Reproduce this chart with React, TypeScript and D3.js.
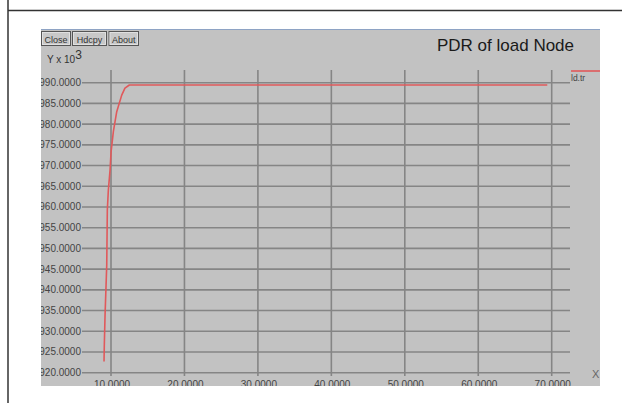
import React from "react";
import * as d3 from "d3";

// PDR trace of the load node (simulation time vs packet delivery ratio x 10^3)
const pdrTime = [9.05, 9.09, 9.19, 9.33, 9.42, 9.46, 9.5, 9.64, 9.87, 10.01, 10.32, 10.78, 11.46, 11.9, 12.5, 69.4];
const pdrValue = [922.7, 926.7, 933.9, 941.2, 946.0, 952.8, 959.3, 964.1, 968.9, 973.3, 978.2, 983.0, 987.0, 988.7, 989.45, 989.45];

const yTicks = [920, 925, 930, 935, 940, 945, 950, 955, 960, 965, 970, 975, 980, 985, 990];
const xTicks = [10, 20, 30, 40, 50, 60, 70];
const buttons = ["Close", "Hdcpy", "About"];
const seriesName = "ld.tr";
const title = "PDR of load Node";

const W = 622;
const H = 403;

// xgraph-style window panel
const panel = { left: 41, top: 29, right: 600, bottom: 386 };
const frame = { left: 82, right: 570, top: 70, bottom: 376 };

const x = d3.scaleLinear().domain([10, 70]).range([111, 551.7]);
const y = d3.scaleLinear().domain([920, 990]).range([372.7, 82.7]);

const buttonBoxes = [
  { x0: 41, x1: 71 },
  { x0: 72, x1: 107 },
  { x0: 108.5, x1: 139 },
];

export default function App() {
  const points: [number, number][] = pdrTime.map((t, i) => [t, pdrValue[i]]);
  const line = d3
    .line<[number, number]>()
    .x((d) => x(d[0]))
    .y((d) => y(d[1]));
  const fmt = d3.format(".4f");
  const gridColor = "#858585";
  const font = "Liberation Sans, Arial, sans-serif";

  return (
    <svg
      width={W}
      height={H}
      viewBox={`0 0 ${W} ${H}`}
      style={{ position: "absolute", left: 0, top: 0, background: "#fff" }}
      fontFamily={font}
    >
      <defs>
        <clipPath id="panelClip">
          <rect x={panel.left} y={panel.top} width={panel.right - panel.left} height={panel.bottom - panel.top} />
        </clipPath>
      </defs>

      {/* page rules */}
      <line x1={8} x2={W} y1={10.5} y2={10.5} stroke="#333" strokeWidth={1.5} />
      <line x1={8} x2={8} y1={0} y2={H} stroke="#333" strokeWidth={1.5} />

      {/* window panel */}
      <rect
        x={panel.left}
        y={panel.top}
        width={panel.right - panel.left}
        height={panel.bottom - panel.top}
        fill="#c2c2c2"
      />
      <line x1={panel.left} x2={panel.right} y1={panel.top + 0.5} y2={panel.top + 0.5} stroke="#8ea3c4" strokeWidth={1} />

      <g clipPath="url(#panelClip)">
        {/* buttons */}
        {buttons.map((b, i) => {
          const bx = buttonBoxes[i];
          return (
            <g key={b}>
              <rect x={bx.x0 + 0.5} y={31.5} width={bx.x1 - bx.x0 - 1} height={14} fill="#c8c8c8" stroke="#555" strokeWidth={1} />
              <rect x={bx.x0 + 1.5} y={32.5} width={bx.x1 - bx.x0 - 3} height={12} fill="none" stroke="#e6e6e6" strokeWidth={0.8} />
              <text x={(bx.x0 + bx.x1) / 2} y={42.5} fontSize={9} fill="#333" textAnchor="middle">
                {b}
              </text>
            </g>
          );
        })}

        {/* title */}
        <text x={437} y={51} fontSize={17} fill="#1a1a1a">
          {title}
        </text>

        {/* y unit */}
        <text x={47} y={63} fontSize={10} fill="#333">
          Y x 10
          <tspan dy={-4} fontSize={12}>
            3
          </tspan>
        </text>

        {/* horizontal grid + y labels */}
        {yTicks.map((v) => (
          <g key={`y${v}`}>
            <line x1={frame.left} x2={frame.right} y1={y(v)} y2={y(v)} stroke={gridColor} strokeWidth={1.6} />
            <text x={81} y={y(v) + 3.5} fontSize={10} fill="#444" textAnchor="end">
              {fmt(v)}
            </text>
          </g>
        ))}

        {/* vertical grid + x labels */}
        {xTicks.map((v) => (
          <g key={`x${v}`}>
            <line x1={x(v)} x2={x(v)} y1={frame.top} y2={frame.bottom} stroke={gridColor} strokeWidth={1.6} />
            <text x={x(v) + 1} y={388} fontSize={10} fill="#444" textAnchor="middle">
              {fmt(v)}
            </text>
          </g>
        ))}

        {/* axis name */}
        <text x={592} y={378} fontSize={11} fill="#666">
          X
        </text>

        {/* legend */}
        <line x1={571} x2={600} y1={71} y2={71} stroke="#e0595b" strokeWidth={1.6} />
        <text x={571} y={80.5} fontSize={8.5} fill="#444">
          {seriesName}
        </text>

        {/* data trace */}
        <path d={line(points) ?? ""} fill="none" stroke="#e0595b" strokeWidth={1.6} strokeLinejoin="round" />
      </g>
    </svg>
  );
}
